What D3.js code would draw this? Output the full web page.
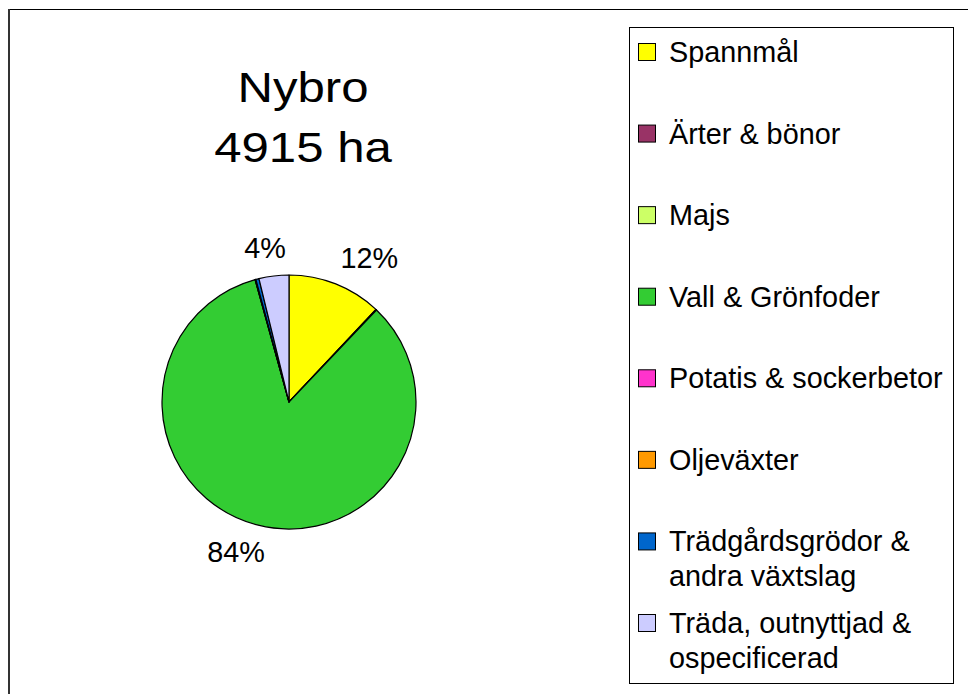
<!DOCTYPE html>
<html>
<head>
<meta charset="utf-8">
<script src="https://cdn.jsdelivr.net/npm/d3@7"></script>
<style>
  body { margin: 0; background: #fff; }
  svg { display: block; }
</style>
</head>
<body>
<div class="pie-chart"></div>
<script>
// data
var categories = ["Spannmål", "Ärter & bönor", "Majs", "Vall & Grönfoder",
    "Potatis & sockerbetor", "Oljeväxter", "Trädgårdsgrödor & andra växtslag",
    "Träda, outnyttjad & ospecificerad"];
var legendLines = [["Spannmål"], ["Ärter & bönor"], ["Majs"], ["Vall & Grönfoder"],
    ["Potatis & sockerbetor"], ["Oljeväxter"], ["Trädgårdsgrödor &", "andra växtslag"],
    ["Träda, outnyttjad &", "ospecificerad"]];
var shares = [12.0, 0.1, 0.0, 83.6, 0.0, 0.1, 0.4, 3.8];
var colors = ["#ffff00", "#993366", "#ccff66", "#33cc33", "#ff33cc", "#ff9900", "#0066cc", "#ccccff"];
var titleLines = ["Nybro", "4915 ha"];

var W = 968, H = 694;
var cx = 289, cy = 402, r = 127;

var svg = d3.select(".pie-chart").append("svg")
    .attr("width", W)
    .attr("height", H);

//chart frame (runs off the right and bottom edges)
svg.append("line").attr("x1", 8).attr("x2", W).attr("y1", 9.5).attr("y2", 9.5)
    .attr("stroke", "#000").attr("stroke-width", 1);
svg.append("line").attr("x1", 9).attr("x2", 9).attr("y1", 9).attr("y2", H)
    .attr("stroke", "#333").attr("stroke-width", 2);

//title - the original font is a stretched arial, so widen it a bit
var labelFont = "'Liberation Sans', Arial, sans-serif";
svg.selectAll("text.title")
    .data(titleLines)
    .enter().append("text")
    .attr("class", "title")
    .attr("x", 303)
    .attr("y", function (d, i) { return 102 + i * 60; })
    .attr("text-anchor", "middle")
    .style("font-family", labelFont)
    .style("font-size", "42px")
    .style("fill", "#000")
    .text(function (d) { return d; })
    .each(function () {
        var w = this.getComputedTextLength();
        d3.select(this)
            .attr("textLength", w * 1.17)
            .attr("lengthAdjust", "spacingAndGlyphs");
    });

//pie
var pie = d3.pie().sort(null).value(function (d) { return d; });
var arcs = pie(shares);
var arc = d3.arc().innerRadius(0).outerRadius(r);

var g = svg.append("g").attr("transform", "translate(" + cx + "," + cy + ")");
g.selectAll("path")
    .data(arcs)
    .enter().append("path")
    .attr("d", arc)
    .attr("fill", function (d, i) { return colors[i]; })
    .attr("stroke", "#000")
    .attr("stroke-width", 1.2)
    .attr("stroke-linejoin", "round");

//percent labels, only for visible slices
var labelArc = d3.arc().innerRadius(155).outerRadius(155);
g.selectAll("text.pct")
    .data(arcs.filter(function (d) { return d.data >= 1; }))
    .enter().append("text")
    .attr("class", "pct")
    .attr("text-anchor", "middle")
    .attr("dy", "0.35em")
    .style("font-family", labelFont)
    .style("font-size", "28.8px")
    .style("fill", "#000")
    .text(function (d) { return Math.round(d.data) + "%"; })
    .attr("x", function (d) {
        var a = (d.startAngle + d.endAngle) / 2;
        var w = this.getComputedTextLength();
        return labelArc.centroid(d)[0] + Math.sin(a) * w * 1.1;
    })
    .attr("y", function (d) { return labelArc.centroid(d)[1]; });

//legend
var lx = 629.5, ly = 27.5;
svg.append("rect")
    .attr("x", lx).attr("y", ly)
    .attr("width", 324).attr("height", 656)
    .attr("fill", "#fff")
    .attr("stroke", "#000")
    .attr("stroke-width", 1);

var rowY = d3.scaleLinear().domain([0, categories.length - 1]).range([62, 633]);
var rows = svg.selectAll("g.leg")
    .data(categories)
    .enter().append("g")
    .attr("class", "leg")
    .attr("transform", function (d, i) { return "translate(0," + rowY(i) + ")"; });

rows.append("rect")
    .attr("x", 638.5).attr("y", -18.5)
    .attr("width", 17).attr("height", 17)
    .attr("fill", function (d, i) { return colors[i]; })
    .attr("stroke", "#000")
    .attr("stroke-width", 1);

rows.append("text")
    .attr("x", 669)
    .style("font-family", labelFont)
    .style("font-size", "28.8px")
    .style("fill", "#000")
    .selectAll("tspan")
    .data(function (d, i) { return legendLines[i]; })
    .enter().append("tspan")
    .attr("x", 669)
    .attr("y", function (d, j) { return j * 35; })
    .text(function (d) { return d; });
</script>
</body>
</html>
